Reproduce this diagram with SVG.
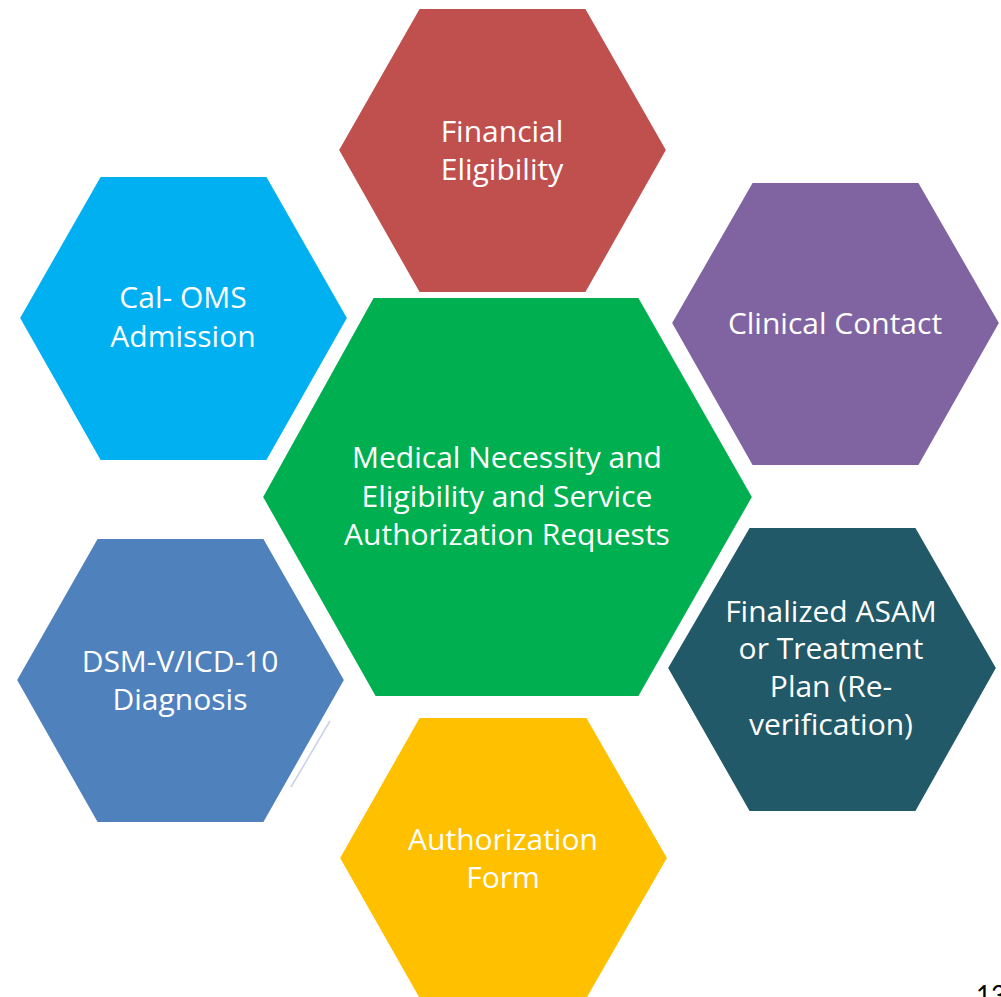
<svg xmlns="http://www.w3.org/2000/svg" width="1001" height="997" viewBox="0 0 1001 997">
<style>
.hex{stroke:#ffffff;stroke-width:2;stroke-linejoin:miter}
.lbl{font-family:"Open Sans",Lato,"Liberation Sans",sans-serif;font-size:30px;fill:#ffffff;text-anchor:middle}
</style>
<rect width="1001" height="997" fill="#ffffff"/>
<g id="center">
<polygon class="hex" fill="#00B050" points="262,497 373,297 639,297 753,497 639,697 375,697"/>
<text class="lbl" x="507" y="468">Medical Necessity and</text>
<text class="lbl" x="507" y="507">Eligibility and Service</text>
<text class="lbl" x="507" y="545">Authorization Requests</text>
</g>
<g id="financial">
<polygon class="hex" fill="#C0504D" points="338,150 419,8 586,8 667,150 586,293 419,293"/>
<text class="lbl" x="502" y="142">Financial</text>
<text class="lbl" x="502" y="180">Eligibility</text>
</g>
<g id="calOMS">
<polygon class="hex" fill="#00B0F0" points="19,318 100,176 267,176 348,318 267,461 100,461"/>
<text class="lbl" x="183" y="308">Cal- OMS</text>
<text class="lbl" x="183" y="347">Admission</text>
</g>
<g id="clinical">
<polygon class="hex" fill="#8064A2" points="671,323 752,182 919,182 1000,323 919,466 752,466"/>
<text class="lbl" x="835" y="334">Clinical Contact</text>
</g>
<g id="dsm">
<polygon class="hex" fill="#4F81BD" points="16,680 97,538 264,538 345,680 264,823 97,823"/>
<text class="lbl" x="180" y="672">DSM-V/ICD-10</text>
<text class="lbl" x="180" y="710">Diagnosis</text>
</g>
<g id="asam">
<polygon class="hex" fill="#215968" points="667,668 749,527 916,527 997,668 916,812 749,812"/>
<text class="lbl" x="831" y="622">Finalized ASAM</text>
<text class="lbl" x="831" y="659">or Treatment</text>
<text class="lbl" x="831" y="697">Plan (Re-</text>
<text class="lbl" x="831" y="735">verification)</text>
</g>
<g id="authForm">
<polygon class="hex" fill="#FFC000" points="339,858 419,717 587,717 668,858 587,999 419,999"/>
<text class="lbl" x="503" y="850">Authorization</text>
<text class="lbl" x="503" y="888">Form</text>
</g>
<g id="connectors"></g>
<g id="decor">
<line x1="291" y1="787" x2="330" y2="721" stroke="#C9D1E8" stroke-width="1.5"/>
<text x="976" y="1005" font-family="Lato,'Liberation Sans',sans-serif" font-size="26" fill="#000000">13</text>
</g>
</svg>
